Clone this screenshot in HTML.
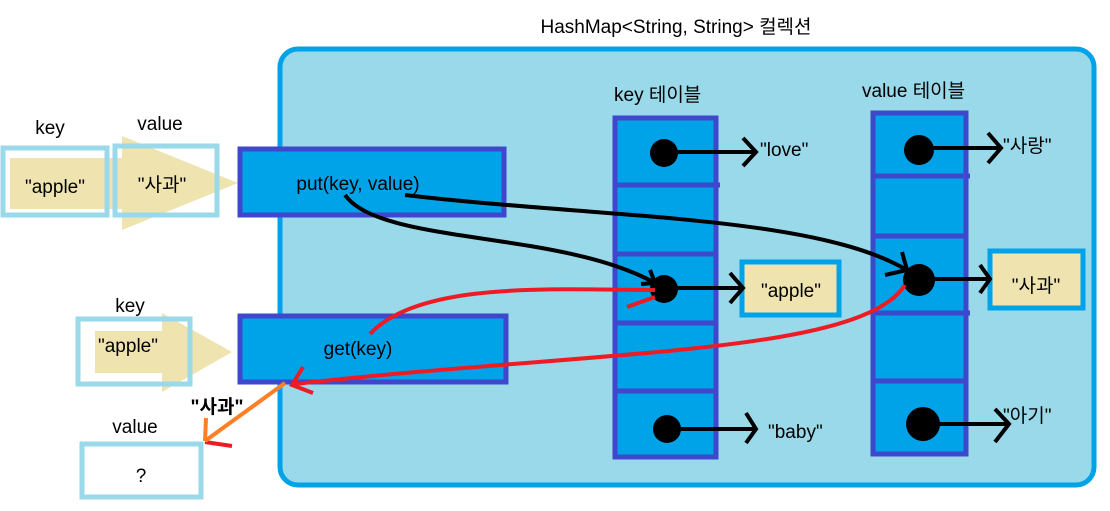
<!DOCTYPE html><html><head><meta charset="utf-8"><style>body{margin:0;background:#fff}svg text{font-family:"Liberation Sans","Noto Sans CJK KR",sans-serif;font-size:19px;fill:#000}</style></head><body>
<svg width="1110" height="506" xmlns="http://www.w3.org/2000/svg">
<text x="676" y="33" text-anchor="middle">HashMap&lt;String, String&gt; 컬렉션</text>
<rect x="280" y="49" width="814" height="436" rx="18" fill="#99d9ea" stroke="#00a2e8" stroke-width="5"/>
<!-- left put inputs -->
<text x="50" y="134" text-anchor="middle">key</text>
<text x="160" y="130" text-anchor="middle">value</text>
<rect x="10" y="158" width="112" height="51" fill="#efe4b0"/>
<polygon points="122,136 238,183 122,230" fill="#efe4b0"/>
<rect x="3" y="148" width="104" height="67" fill="none" stroke="#99d9ea" stroke-width="5"/>
<rect x="115" y="146" width="102" height="69" fill="none" stroke="#99d9ea" stroke-width="5"/>
<text x="55" y="193" text-anchor="middle">"apple"</text>
<text x="162" y="191" text-anchor="middle">"사과"</text>
<rect x="240" y="149" width="264" height="66" fill="#00a2e8" stroke="#3f48cc" stroke-width="5"/>
<text x="358" y="190" text-anchor="middle">put(key, value)</text>
<!-- get -->
<text x="130" y="312" text-anchor="middle">key</text>
<rect x="95" y="331" width="70" height="42" fill="#efe4b0"/>
<polygon points="162,313 232,352 162,392" fill="#efe4b0"/>
<rect x="78" y="319" width="112" height="65" fill="none" stroke="#99d9ea" stroke-width="5"/>
<text x="128" y="352" text-anchor="middle">"apple"</text>
<rect x="240" y="316" width="266" height="66" fill="#00a2e8" stroke="#3f48cc" stroke-width="5"/>
<text x="358" y="355" text-anchor="middle">get(key)</text>
<text x="217" y="413" text-anchor="middle" font-weight="bold">"사과"</text>
<text x="135" y="433" text-anchor="middle">value</text>
<rect x="82" y="444" width="119" height="53" fill="#fff" stroke="#99d9ea" stroke-width="5"/>
<text x="141" y="482" text-anchor="middle">?</text>
<!-- key table -->
<text x="614" y="101">key 테이블</text>
<rect x="615" y="118" width="101" height="339" fill="#00a2e8" stroke="#3f48cc" stroke-width="5"/>
<g stroke="#3f48cc" stroke-width="5"><line x1="613" y1="185" x2="720" y2="185"/><line x1="613" y1="254" x2="718" y2="254"/><line x1="613" y1="323" x2="718" y2="323"/><line x1="613" y1="391" x2="718" y2="391"/></g>
<!-- value table -->
<text x="862" y="97">value 테이블</text>
<rect x="873" y="113" width="93" height="341" fill="#00a2e8" stroke="#3f48cc" stroke-width="5"/>
<g stroke="#3f48cc" stroke-width="5"><line x1="871" y1="176" x2="970" y2="176"/><line x1="871" y1="236" x2="968" y2="236"/><line x1="871" y1="313" x2="970" y2="313"/><line x1="871" y1="381" x2="968" y2="381"/></g>
<!-- value boxes -->
<rect x="742" y="262" width="97" height="53" fill="#efe4b0" stroke="#00a2e8" stroke-width="5"/>
<text x="791" y="297" text-anchor="middle">"apple"</text>
<rect x="990" y="251" width="93" height="57" fill="#efe4b0" stroke="#00a2e8" stroke-width="5"/>
<text x="1036" y="292" text-anchor="middle">"사과"</text>
<text x="760" y="156">"love"</text>
<text x="768" y="438">"baby"</text>
<text x="1003" y="152">"사랑"</text>
<text x="1003" y="422">"아기"</text>
<!-- dots & arrows -->
<g fill="#000"><circle cx="664" cy="153" r="14"/><circle cx="664" cy="289" r="14"/><circle cx="667" cy="429" r="14"/><circle cx="919" cy="150" r="15"/><circle cx="919" cy="280" r="16"/><circle cx="923" cy="424" r="17"/></g>
<g stroke="#000" stroke-width="4" fill="none">
<line x1="664" y1="152" x2="756" y2="152"/><polyline points="743,138 756,152 743,166"/>
<line x1="664" y1="288" x2="743" y2="288"/><polyline points="730,273 743,288 730,303"/>
<line x1="667" y1="429" x2="756" y2="429"/><polyline points="746,413 756,429 746,443"/>
<line x1="919" y1="148" x2="1001" y2="148"/><polyline points="988,133 1001,148 988,163"/>
<line x1="919" y1="279" x2="990" y2="279"/><polyline points="980,265 990,279 980,293"/>
<line x1="923" y1="424" x2="1009" y2="424"/><polyline points="995,409 1009,424 995,442"/>
<path d="M345,195 C380,245 560,230 655,283"/><polyline points="650,270 655,283 641,284"/>
<path d="M405,195 C600,218 820,215 910,272"/><polyline points="902,252 907,270 885,275"/>
</g>
<g stroke="#ed1c24" stroke-width="4" fill="none">
<path d="M370,334 C420,280 560,290 655,290"/><polyline points="627,307 655,297"/>
<path d="M905,285 C860,355 600,350 295,384"/><polyline points="303,367 292,385 313,393"/>
<line x1="205" y1="442" x2="232" y2="446"/>
</g>
<g stroke="#ff7f27" stroke-width="4" fill="none"><line x1="285" y1="383" x2="205" y2="441"/><line x1="206" y1="418" x2="205" y2="441"/></g>
</svg></body></html>
